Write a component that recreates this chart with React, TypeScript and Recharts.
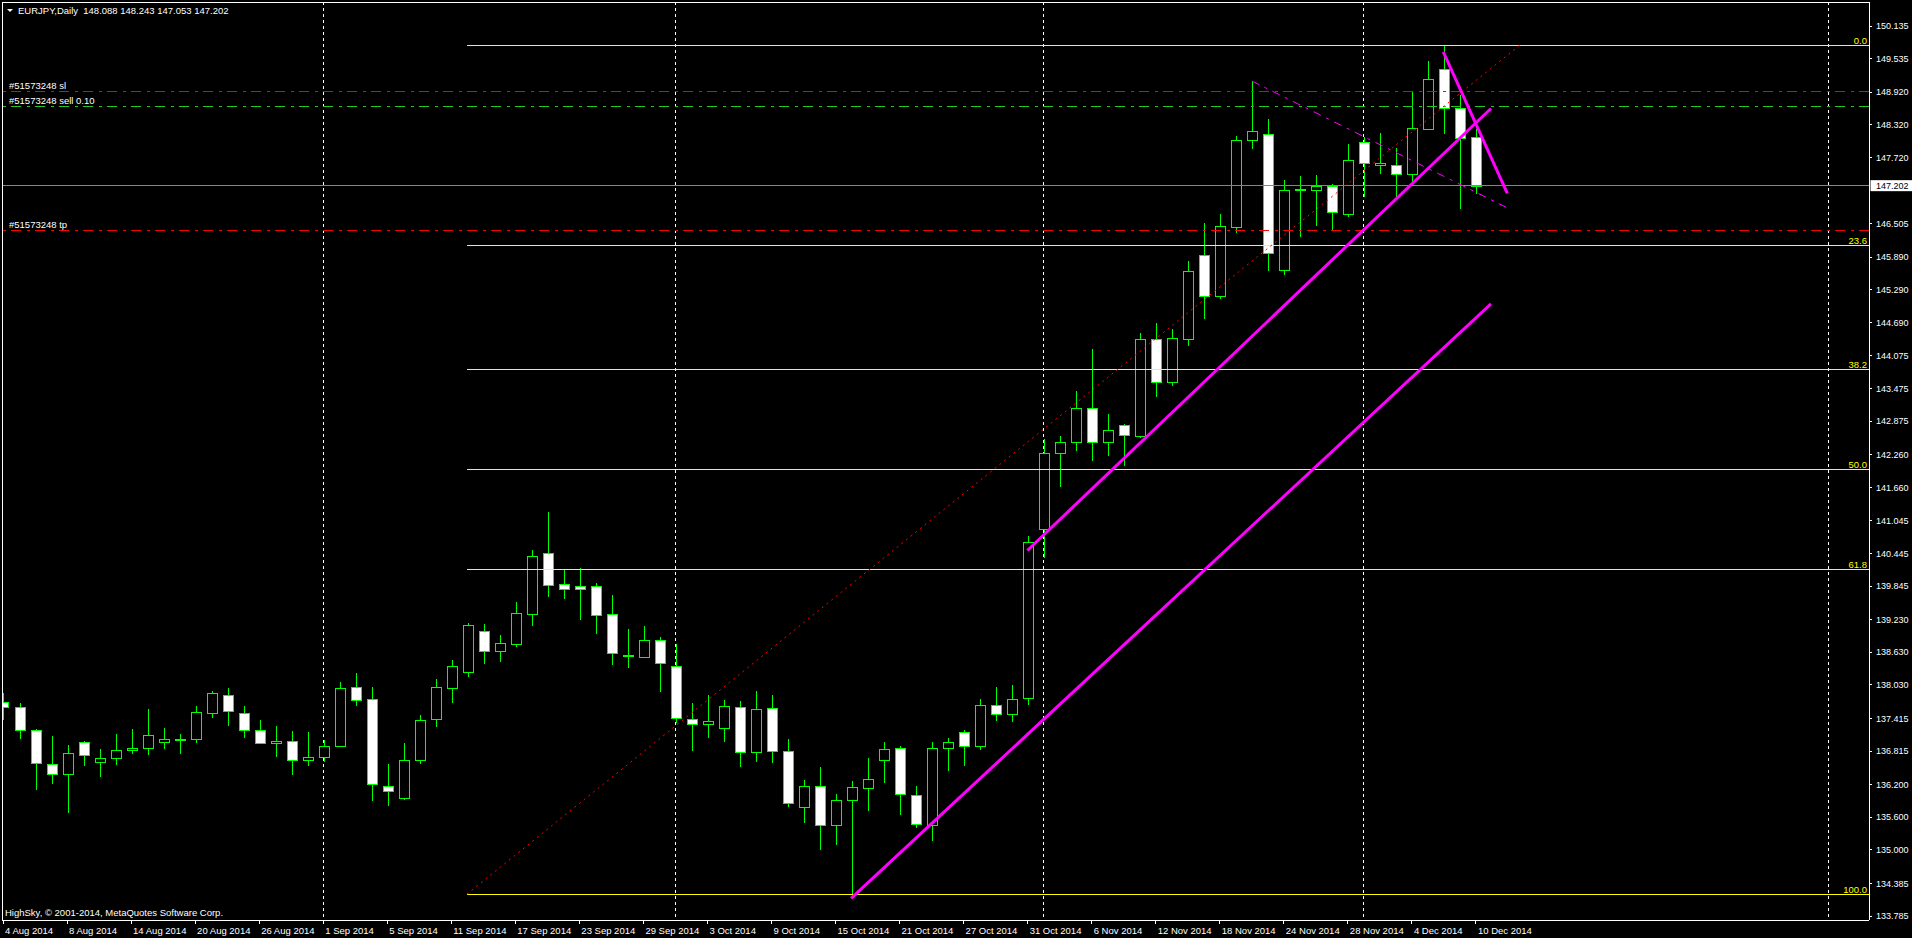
import React from "react"
import {
  ComposedChart,
  Bar,
  XAxis,
  YAxis,
  CartesianGrid,
  ReferenceLine,
} from "recharts"

// EURJPY daily, 4 Aug 2014 .. 10 Dec 2014 (one entry per trading day)
const opens = [
  137.71, 137.62, 137.2, 136.57, 136.39, 136.98, 136.61, 136.68, 136.83, 136.88,
  136.98, 137.02, 137.03, 137.51, 137.84, 137.51, 137.2, 136.96, 137.0, 136.66,
  136.71, 136.91, 137.99, 137.77, 136.17, 135.95, 136.66, 137.4, 137.97, 138.26,
  139.02, 138.65, 138.78, 139.33, 140.45, 139.89, 139.84, 139.84, 139.33, 138.58,
  138.54, 138.85, 138.37, 137.4, 137.31, 137.23, 137.62, 136.79, 137.6, 136.81,
  135.79, 136.17, 135.45, 135.91, 136.13, 136.66, 136.87, 136.0, 135.45, 136.88,
  137.16, 136.9, 137.66, 137.49, 137.79, 140.89, 142.3, 142.49, 143.11, 142.5,
  142.8, 142.61, 144.38, 143.59, 144.39, 145.92, 145.18, 146.45, 148.05, 148.16,
  145.66, 147.13, 147.12, 147.19, 146.69, 148.0, 147.59, 147.59, 147.42, 148.24,
  149.34, 148.62, 148.088,
]
const highs = [
  137.88, 137.7, 137.22, 137.09, 136.93, 137.0, 136.85, 137.13, 137.22, 137.59,
  137.24, 137.13, 137.64, 137.92, 137.97, 137.64, 137.39, 137.28, 137.18, 137.16,
  137.01, 138.08, 138.25, 138.0, 136.58, 136.96, 137.48, 138.14, 138.49, 139.17,
  139.15, 138.95, 139.55, 140.51, 141.21, 140.16, 140.18, 139.9, 139.68, 139.06,
  139.11, 138.91, 138.78, 137.7, 137.84, 137.75, 137.73, 137.92, 137.84, 137.04,
  136.28, 136.52, 136.03, 136.26, 136.69, 136.98, 136.91, 136.17, 136.98, 137.05,
  137.21, 137.77, 138.0, 138.02, 140.76, 142.55, 142.6, 143.43, 144.2, 143.01,
  142.82, 144.5, 144.67, 144.57, 145.82, 146.52, 146.68, 148.11, 149.12, 148.43,
  147.31, 147.38, 147.4, 147.23, 147.96, 148.1, 148.17, 147.89, 148.94, 149.49,
  149.78, 148.86, 148.243,
]
const lows = [
  137.39, 137.04, 136.1, 136.21, 135.68, 136.54, 136.33, 136.56, 136.76, 136.74,
  136.85, 136.77, 136.97, 137.43, 137.28, 137.06, 136.95, 136.71, 136.38, 136.55,
  136.62, 136.89, 137.65, 135.9, 135.81, 135.92, 136.58, 137.26, 137.7, 138.18,
  138.42, 138.45, 138.73, 139.12, 139.64, 139.6, 139.23, 138.97, 138.4, 138.35,
  138.53, 137.9, 137.33, 136.82, 137.05, 136.98, 136.53, 136.62, 136.6, 135.79,
  135.5, 135.0, 135.09, 134.12, 135.72, 136.23, 135.65, 135.4, 135.17, 136.45,
  136.54, 136.84, 137.37, 137.35, 137.66, 140.37, 141.67, 142.33, 142.15, 142.23,
  142.06, 142.56, 143.32, 143.52, 144.26, 144.76, 145.12, 146.34, 147.87, 145.64,
  145.57, 146.26, 146.47, 146.39, 146.63, 147.0, 147.42, 147.0, 147.24, 148.23,
  148.15, 146.78, 147.053,
]
const closes = [
  137.62, 137.2, 136.59, 136.39, 136.78, 136.74, 136.68, 136.83, 136.87, 137.11,
  137.03, 137.03, 137.53, 137.88, 137.56, 137.2, 136.96, 137.0, 136.66, 136.7,
  136.91, 137.97, 137.75, 136.21, 136.08, 136.66, 137.38, 137.99, 138.37, 139.14,
  138.65, 138.8, 139.36, 140.39, 139.87, 139.8, 139.8, 139.32, 138.61, 138.56,
  138.85, 138.43, 137.42, 137.31, 137.36, 137.64, 136.79, 137.58, 136.81, 135.86,
  136.17, 135.45, 135.91, 136.15, 136.31, 136.85, 136.02, 135.47, 136.88, 136.99,
  136.9, 137.66, 137.49, 137.78, 140.65, 142.3, 142.49, 143.11, 142.5, 142.71,
  142.63, 144.38, 143.59, 144.4, 145.63, 145.18, 146.46, 148.05, 148.2, 145.96,
  147.13, 147.14, 147.19, 146.71, 147.67, 147.61, 147.61, 147.42, 148.26, 149.16,
  148.62, 148.08, 147.202,
]

// date labels, one every 4 bars starting at bar 0
const tickDates = [
  "4 Aug 2014", "8 Aug 2014", "14 Aug 2014", "20 Aug 2014", "26 Aug 2014",
  "1 Sep 2014", "5 Sep 2014", "11 Sep 2014", "17 Sep 2014", "23 Sep 2014",
  "29 Sep 2014", "3 Oct 2014", "9 Oct 2014", "15 Oct 2014", "21 Oct 2014",
  "27 Oct 2014", "31 Oct 2014", "6 Nov 2014", "12 Nov 2014", "18 Nov 2014",
  "24 Nov 2014", "28 Nov 2014", "4 Dec 2014", "10 Dec 2014",
]
const priceTicks = [
  150.135, 149.535, 148.92, 148.32, 147.72, 146.505, 145.89, 145.29, 144.69,
  144.075, 143.475, 142.875, 142.26, 141.66, 141.045, 140.445, 139.845, 139.23,
  138.63, 138.03, 137.415, 136.815, 136.2, 135.6, 135.0, 134.385, 133.785,
]
const monthStarts = [20, 42, 65, 85, 114]

// fibonacci retracement
const fibLevels = [0, 23.6, 38.2, 50, 61.8, 100]
const fibHigh = 149.786
const fibLow = 134.188
const fibStart = 28.98

// drawn objects, [bar, price] end points
const fibDiagonal = [[28.98, 134.188], [94.75, 149.786]]
const channelLower = [[52.97, 134.11], [92.94, 145.03]]
const channelUpper = [[63.98, 140.5], [92.94, 148.62]]
const breakLine = [[89.96, 149.66], [93.96, 147.06]]
const dashedLine = [[78.0, 149.125], [93.92, 146.8]]

const orderId = "#51573248"
const stopLoss = 148.935
const entryPrice = 148.66
const takeProfit = 146.38

const X_MIN = -0.0625
const X_MAX = 116.55
const Y_MIN = 133.712
const Y_MAX = 150.576

const FONT = '"Liberation Sans", Arial, sans-serif'
const CRISP = "crispEdges"

const rows = opens.map((open, i) => ({
  i,
  open,
  high: highs[i],
  low: lows[i],
  close: closes[i],
}))
const last = rows[rows.length - 1]
const tickIdx = tickDates.map((_, k) => k * 4)

function Candle(props: any) {
  const { x, y, width, height } = props
  const d = props.payload ?? props
  if (x == null || y == null || !d) return null
  const top = Math.min(y, y + height)
  const h = Math.abs(height)
  const span = d.high - d.low || 1
  const py = (v: number) => top + ((d.high - v) / span) * h
  const cx = Math.round(x + width / 2) + 0.5
  const bTop = Math.round(py(Math.max(d.open, d.close))) + 0.5
  const bBot = Math.round(py(Math.min(d.open, d.close))) + 0.5
  const bear = d.close < d.open
  return (
    <g>
      <line x1={cx} x2={cx} y1={top} y2={top + h} stroke="#00ff00" shapeRendering={CRISP} />
      <rect
        x={cx - 5}
        y={bTop}
        width={10}
        height={Math.max(bBot - bTop, 0)}
        fill={bear ? "#ffffff" : "#000000"}
        stroke="#00ff00"
        shapeRendering={CRISP}
      />
    </g>
  )
}

function DateTick(props: any) {
  const { x, y, payload } = props
  return (
    <text x={x + 2} y={y + 9.5} fill="#fff" fontSize={9.5} fontFamily={FONT} textAnchor="start">
      {tickDates[Math.round(payload.value / 4)]}
    </text>
  )
}

const leftLabel = (text: string) => (p: any) => {
  const vb = p.viewBox || {}
  return (
    <text x={vb.x + 7} y={vb.y - 2} fill="#fff" fontSize={9.5} fontFamily={FONT}>
      {text}
    </text>
  )
}

const fibLabel = (text: string) => (p: any) => {
  const vb = p.viewBox || {}
  return (
    <text x={vb.x + vb.width - 2} y={vb.y - 1.5} fill="#ffff00" fontSize={9.5} fontFamily={FONT} textAnchor="end">
      {text}
    </text>
  )
}

const priceBox = (text: string) => (p: any) => {
  const vb = p.viewBox || {}
  const ax = vb.x + vb.width
  return (
    <g>
      <rect x={ax + 1.5} y={vb.y - 5.5} width={44} height={11} fill="#fff" />
      <text x={ax + 7} y={vb.y + 3.5} fill="#000" fontSize={9} fontFamily={FONT}>
        {text}
      </text>
    </g>
  )
}

const seg = (pts: number[][]) => pts.map(([x, y]) => ({ x, y }))

export default function App() {
  return (
    <div style={{ position: "fixed", left: 0, top: 0, width: 1912, height: 938, background: "#000", overflow: "hidden" }}>
      <ComposedChart width={1912} height={938} data={rows} margin={{ top: 2, right: 0, bottom: 0, left: 2 }}>
        <CartesianGrid horizontal={false} verticalValues={monthStarts} stroke="#fff" strokeDasharray="3 3" shapeRendering={CRISP} />
        <XAxis
          type="number"
          dataKey="i"
          domain={[X_MIN, X_MAX]}
          allowDataOverflow
          ticks={tickIdx}
          interval={0}
          tick={<DateTick />}
          tickSize={4}
          tickMargin={0}
          tickLine={{ stroke: "#fff", shapeRendering: CRISP }}
          axisLine={{ stroke: "#fff", shapeRendering: CRISP }}
          height={18}
        />
        <YAxis
          orientation="right"
          domain={[Y_MIN, Y_MAX]}
          allowDataOverflow
          ticks={priceTicks}
          interval={0}
          tickFormatter={(v: number) => v.toFixed(3)}
          tick={{ fill: "#fff", fontSize: 9, fontFamily: FONT }}
          tickSize={3}
          tickMargin={4}
          tickLine={{ stroke: "#fff", shapeRendering: CRISP }}
          axisLine={{ stroke: "#fff", shapeRendering: CRISP }}
          width={43}
        />
        <Bar dataKey={(d: any) => [d.low, d.high]} shape={<Candle />} barSize={11} isAnimationActive={false} />

        <ReferenceLine y={stopLoss} stroke="#ff0000" strokeDasharray="10 5 3 6" shapeRendering={CRISP} label={leftLabel(`${orderId} sl`)} />
        <ReferenceLine y={entryPrice} stroke="#1ec81e" strokeDasharray="10 5 3 6" shapeRendering={CRISP} label={leftLabel(`${orderId} sell 0.10`)} />
        <ReferenceLine y={takeProfit} stroke="#ff0000" strokeDasharray="10 5 3 6" shapeRendering={CRISP} label={leftLabel(`${orderId} tp`)} />
        <ReferenceLine y={last.close} stroke="#778899" shapeRendering={CRISP} label={priceBox(last.close.toFixed(3))} />

        {fibLevels.map((lv) => {
          const price = fibHigh - (lv / 100) * (fibHigh - fibLow)
          return (
            <ReferenceLine
              key={lv}
              segment={[{ x: fibStart, y: price }, { x: X_MAX, y: price }]}
              stroke="#ffff00"
              shapeRendering={CRISP}
              label={fibLabel(lv.toFixed(1))}
            />
          )
        })}
        <ReferenceLine segment={seg(fibDiagonal)} stroke="#ff0000" strokeDasharray="2 4" />
        <ReferenceLine segment={seg(dashedLine)} stroke="#ff00ff" strokeDasharray="8 6 3 6" />
        <ReferenceLine segment={seg(channelLower)} stroke="#ff00ff" strokeWidth={3} />
        <ReferenceLine segment={seg(channelUpper)} stroke="#ff00ff" strokeWidth={3} />
        <ReferenceLine segment={seg(breakLine)} stroke="#ff00ff" strokeWidth={3} />
      </ComposedChart>

      <div style={{ position: "absolute", left: 2, top: 2, width: 1867, height: 918, borderTop: "1px solid #fff", borderLeft: "1px solid #fff", boxSizing: "border-box", pointerEvents: "none" }} />
      <div style={{ position: "absolute", left: 7, top: 9, width: 0, height: 0, borderLeft: "3px solid transparent", borderRight: "3px solid transparent", borderTop: "3px solid #fff" }} />
      <div style={{ position: "absolute", left: 18, top: 5, color: "#fff", fontFamily: FONT, fontSize: 9.5, lineHeight: "12px", whiteSpace: "pre" }}>
        {`EURJPY,Daily  ${last.open.toFixed(3)} ${last.high.toFixed(3)} ${last.low.toFixed(3)} ${last.close.toFixed(3)}`}
      </div>
      <div style={{ position: "absolute", left: 5, top: 907, color: "#fff", fontFamily: FONT, fontSize: 9.5, lineHeight: "12px", whiteSpace: "pre" }}>
        HighSky, © 2001-2014, MetaQuotes Software Corp.
      </div>
    </div>
  )
}
